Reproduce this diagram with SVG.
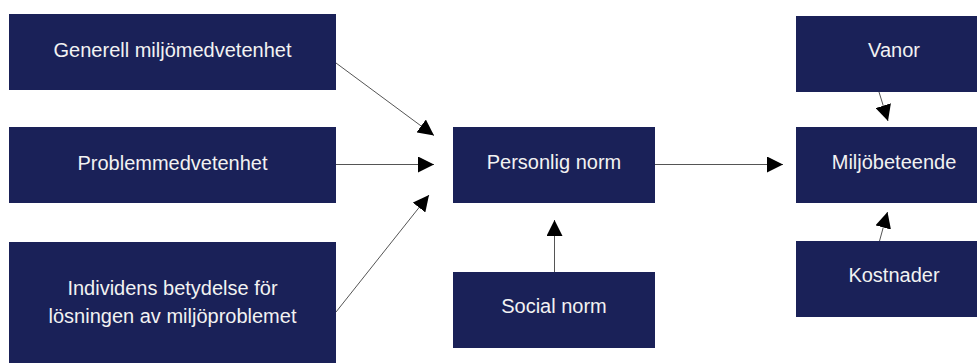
<svg xmlns="http://www.w3.org/2000/svg" width="977" height="363" viewBox="0 0 977 363">
<style>
.box{fill:#1a2158}
.t{font-family:"Liberation Sans",Arial,sans-serif;font-size:20px;fill:#f2f2f2;text-anchor:middle}
.c{stroke:#555;stroke-width:1;fill:none;marker-end:url(#ah)}
</style>
<defs>
<marker id="ah" viewBox="0 0 16 16" refX="16" refY="8" markerWidth="16" markerHeight="16" markerUnits="userSpaceOnUse" orient="auto">
<path d="M0,0 L16,8 L0,16 Z" fill="#000"/>
</marker>
</defs>
<rect width="977" height="363" fill="#fff"/>
<g id="n-generell"><rect class="box" x="9" y="14" width="327" height="76"/><text class="t" x="172.5" y="57">Generell miljömedvetenhet</text></g>
<g id="n-problem"><rect class="box" x="9" y="127" width="327" height="76"/><text class="t" x="172.5" y="170">Problemmedvetenhet</text></g>
<g id="n-individ"><rect class="box" x="9" y="242" width="327" height="130"/><text class="t" x="172.5" y="295">Individens betydelse för</text><text class="t" x="172.5" y="323">lösningen av miljöproblemet</text></g>
<g id="n-personlig"><rect class="box" x="453" y="127" width="202" height="76"/><text class="t" x="554" y="169">Personlig norm</text></g>
<g id="n-social"><rect class="box" x="453" y="272" width="202" height="76"/><text class="t" x="554" y="313">Social norm</text></g>
<g id="n-vanor"><rect class="box" x="796" y="16" width="196" height="76"/><text class="t" x="894" y="57">Vanor</text></g>
<g id="n-miljo"><rect class="box" x="796" y="127" width="196" height="76"/><text class="t" x="894" y="169">Miljöbeteende</text></g>
<g id="n-kostnader"><rect class="box" x="796" y="241" width="196" height="76"/><text class="t" x="894" y="282">Kostnader</text></g>
<g id="connectors">
<line class="c" x1="336" y1="63" x2="434" y2="135.5"/>
<line class="c" x1="336" y1="164.5" x2="434" y2="164.5"/>
<line class="c" x1="336" y1="312" x2="429" y2="195"/>
<line class="c" x1="554.5" y1="272" x2="554.5" y2="220"/>
<line class="c" x1="655" y1="164.5" x2="783" y2="164.5"/>
<line class="c" x1="879" y1="92" x2="888" y2="121"/>
<line class="c" x1="879.5" y1="241" x2="887.5" y2="212"/>
</g>
</svg>
